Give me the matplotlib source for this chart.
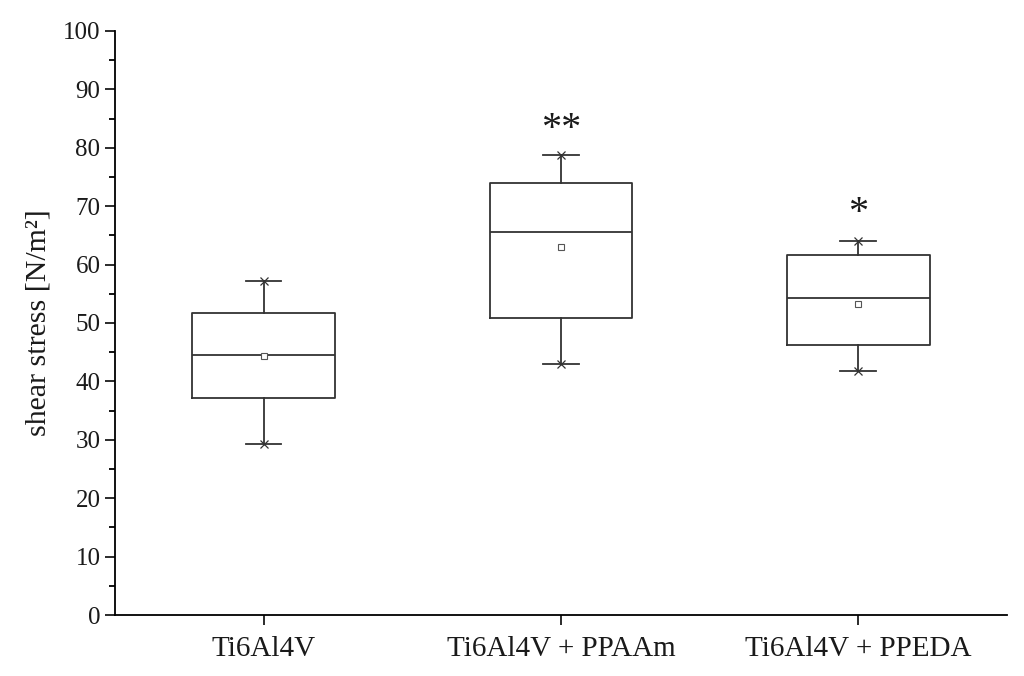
import matplotlib.pyplot as plt
from matplotlib.ticker import MultipleLocator

# data
groups = ["Ti6Al4V", "Ti6Al4V + PPAAm", "Ti6Al4V + PPEDA"]
whisker_low = [29.2, 43.0, 41.8]
q1 = [37.2, 50.8, 46.3]
medians = [44.5, 65.5, 54.2]
q3 = [51.7, 74.0, 61.7]
whisker_high = [57.2, 78.7, 64.0]
means = [44.3, 63.0, 53.3]
signif = ["", "**", "*"]
signif_y = [0, 83.2, 68.8]

plt.rcParams['font.family'] = ['Liberation Serif', 'DejaVu Serif']

fig = plt.figure(figsize=(10.24, 6.76), dpi=100)
ax = fig.add_axes([0.1123, 0.0902, 0.871, 0.864])

stats = []
for i in range(len(groups)):
	stats.append({
		"label": groups[i],
		"whislo": whisker_low[i],
		"q1": q1[i],
		"med": medians[i],
		"q3": q3[i],
		"whishi": whisker_high[i],
		"mean": means[i],
		"fliers": [],
	})

pos = [1, 2, 3]
line_kw = dict(color="#333333", linewidth=1.3)
ax.bxp(stats, positions=pos, widths=0.48, showmeans=True, showfliers=False,
	boxprops=line_kw, medianprops=line_kw, whiskerprops=line_kw,
	capprops=line_kw, capwidths=0.12,
	meanprops=dict(marker="s", markersize=4, markerfacecolor="white",
				   markeredgecolor="#555555", markeredgewidth=0.8))

# little x marks at whisker ends
ax.plot(pos, whisker_low, linestyle="none", marker="x", markersize=6, color="#333333", markeredgewidth=0.9)
ax.plot(pos, whisker_high, linestyle="none", marker="x", markersize=6, color="#333333", markeredgewidth=0.9)

for i in range(len(groups)):
	if signif[i]:
		ax.text(pos[i], signif_y[i], signif[i], ha="center", va="center", fontsize=29,
				color="#1a1a1a")

ax.set_xlim(0.5, 3.5)
ax.set_ylim(0, 100)
ax.yaxis.set_major_locator(MultipleLocator(10))
ax.yaxis.set_minor_locator(MultipleLocator(5))
ax.spines["top"].set_visible(False)
ax.spines["right"].set_visible(False)
ax.spines["left"].set_linewidth(1.3)
ax.spines["bottom"].set_linewidth(1.3)
ax.tick_params(axis="both", which="major", direction="out", length=7, width=1.3, labelsize=18, colors="#1a1a1a")
ax.tick_params(axis="y", which="minor", direction="out", length=4, width=1.3)
ax.tick_params(axis="x", labelsize=21, pad=8)
ax.set_xticks(pos)
ax.set_xticklabels(groups)
ax.set_ylabel("shear stress [N/m²]", fontsize=21.5, color="#1a1a1a", labelpad=8)

fig.savefig("out.png", dpi=100)
